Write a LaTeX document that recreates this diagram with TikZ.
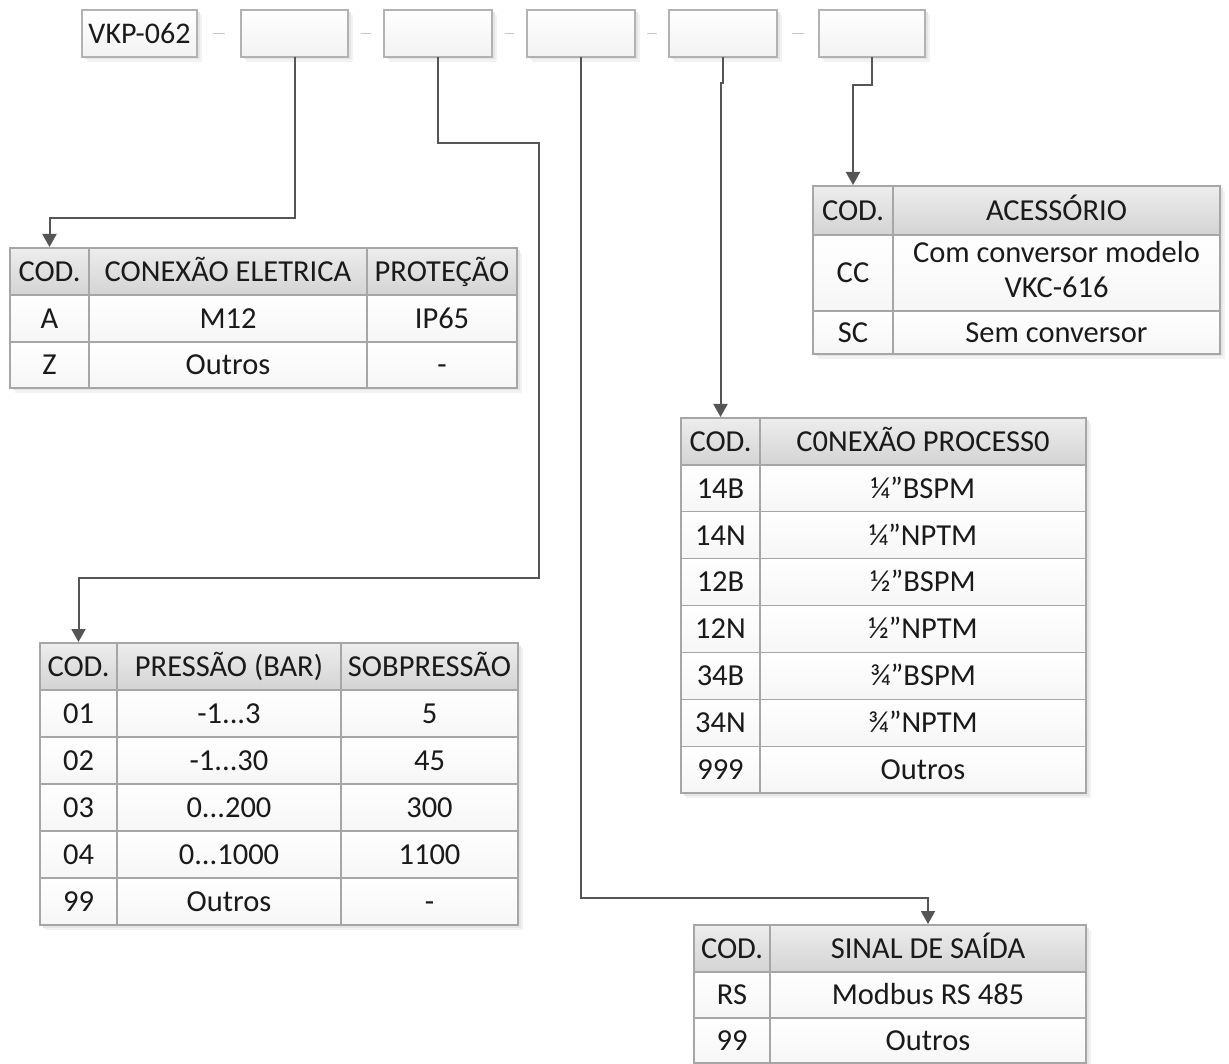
\documentclass[tikz,border=0pt]{standalone}
\usepackage{fontspec}
\setmainfont{Carlito}
\usetikzlibrary{arrows.meta,calc}
\definecolor{lnk}{HTML}{555555}
\definecolor{brd}{HTML}{A6A6A6}
\definecolor{txt}{HTML}{1A1A1A}
\newcommand\cstrut{\rule[-8pt]{0pt}{35.6pt}}
\tikzset{
  cellbase/.style={draw=brd, line width=1.2pt, inner sep=0pt, outer sep=0pt, rectangle, text=txt, align=center, font=\fontsize{30.5}{35}\selectfont, execute at begin node=\cstrut},
  hdr/.style={cellbase, top color=gray!14, bottom color=gray!34},
  bdy/.style={cellbase, top color=white, bottom color=gray!7},
  topbox/.style={draw=gray!60, line width=1.4pt, top color=white, bottom color=gray!10, rectangle, inner sep=0pt, outer sep=0pt, text=txt, font=\fontsize{30}{34}\selectfont, execute at begin node=\cstrut},
  link/.style={draw=lnk, line width=2pt, -{Triangle[length=13pt,width=14pt]}, shorten >=1pt},
  sep/.style={draw=gray!45, line width=1.2pt}
}
\newcommand\cellnode[7]{\node[#6, minimum width={#4-#2}, minimum height={#5-#3}] (#1) at ({(#2+#4)/2},{(#3+#5)/2}) {#7};}
\newcommand\shadowrect[4]{%
  \fill[gray!10] (#1+5,#2+5) rectangle (#3+5,#4+5);
  \fill[gray!20] (#1+2.5,#2+2.5) rectangle (#3+2.5,#4+2.5);}
\newcommand\prow[5]{% index, code, pressure, over
  \pgfmathsetmacro\ya{690+#1*47}
  \pgfmathsetmacro\yb{690+(#1+1)*47}
  \cellnode{t3r#1a}{40}{\ya}{117}{\yb}{bdy}{#2}
  \cellnode{t3r#1b}{117}{\ya}{341}{\yb}{bdy}{#3}
  \cellnode{t3r#1c}{341}{\ya}{518}{\yb}{bdy}{#4}}
\begin{document}
\begin{tikzpicture}[x=1pt,y=-1pt]
\useasboundingbox (0,0) rectangle (1229,1064);
\fill[white] (0,0) rectangle (1229,1064);
% top boxes
\shadowrect{82}{10}{197}{57}
\shadowrect{241}{10}{348}{57}
\shadowrect{384}{10}{492}{57}
\shadowrect{527}{10}{635}{57}
\shadowrect{669}{10}{777}{57}
\shadowrect{819}{10}{925}{57}
\cellnode{b1}{82}{10}{197}{57}{topbox}{VKP-062}
\cellnode{b2}{241}{10}{348}{57}{topbox}{}
\cellnode{b3}{384}{10}{492}{57}{topbox}{}
\cellnode{b4}{527}{10}{635}{57}{topbox}{}
\cellnode{b5}{669}{10}{777}{57}{topbox}{}
\cellnode{b6}{819}{10}{925}{57}{topbox}{}
\foreach \a/\b in {b1/b2,b2/b3,b3/b4,b4/b5,b5/b6}{
  \draw[sep] ($(\a.east)!0.36!(\b.west)$) -- ($(\a.east)!0.64!(\b.west)$);}
% table 1: conexao eletrica
\shadowrect{10}{248}{517}{388}
\cellnode{t1h1}{10}{248}{89}{295}{hdr}{COD.}
\cellnode{t1h2}{89}{248}{367}{295}{hdr}{CONEXÃO ELETRICA}
\cellnode{t1h3}{367}{248}{517}{295}{hdr}{PROTEÇÃO}
\cellnode{t1a1}{10}{295}{89}{342}{bdy}{A}
\cellnode{t1a2}{89}{295}{367}{342}{bdy}{M12}
\cellnode{t1a3}{367}{295}{517}{342}{bdy}{IP65}
\cellnode{t1b1}{10}{342}{89}{388}{bdy}{Z}
\cellnode{t1b2}{89}{342}{367}{388}{bdy}{Outros}
\cellnode{t1b3}{367}{342}{517}{388}{bdy}{-}
% table 2: acessorio
\shadowrect{813}{186}{1220}{354}
\cellnode{t2h1}{813}{186}{893}{235}{hdr}{COD.}
\cellnode{t2h2}{893}{186}{1220}{235}{hdr}{ACESSÓRIO}
\cellnode{t2a1}{813}{235}{893}{311}{bdy}{CC}
\cellnode{t2a2}{893}{235}{1220}{311}{bdy}{Com conversor modelo\\VKC-616\cstrut}
\cellnode{t2b1}{813}{311}{893}{354}{bdy}{SC}
\cellnode{t2b2}{893}{311}{1220}{354}{bdy}{Sem conversor}
% table 4: conexao processo
\shadowrect{681}{418}{1086}{793}
\cellnode{t4h1}{681}{418}{760}{465}{hdr}{COD.}
\cellnode{t4h2}{760}{418}{1086}{465}{hdr}{C0NEXÃO PROCESS0}
\foreach \i/\c/\t in {0/14B/¼”BSPM,1/14N/¼”NPTM,2/12B/½”BSPM,3/12N/½”NPTM,4/34B/¾”BSPM,5/34N/¾”NPTM,6/999/Outros}{
  \pgfmathsetmacro\ya{465+\i*46.86}
  \pgfmathsetmacro\yb{465+(\i+1)*46.86}
  \cellnode{t4r\i a}{681}{\ya}{760}{\yb}{bdy}{\c}
  \cellnode{t4r\i b}{760}{\ya}{1086}{\yb}{bdy}{\t}
}
% table 3: pressao
\shadowrect{40}{643}{518}{925}
\cellnode{t3h1}{40}{643}{117}{690}{hdr}{COD.}
\cellnode{t3h2}{117}{643}{341}{690}{hdr}{PRESSÃO (BAR)}
\cellnode{t3h3}{341}{643}{518}{690}{hdr}{SOBPRESSÃO}
\prow{0}{01}{-1...3}{5}{}
\prow{1}{02}{-1...30}{45}{}
\prow{2}{03}{0...200}{300}{}
\prow{3}{04}{0...1000}{1100}{}
\prow{4}{99}{Outros}{-}{}
% table 5: sinal de saida
\shadowrect{694}{925}{1086}{1063}
\cellnode{t5h1}{694}{925}{770}{972}{hdr}{COD.}
\cellnode{t5h2}{770}{925}{1086}{972}{hdr}{SINAL DE SAÍDA}
\cellnode{t5a1}{694}{972}{770}{1018}{bdy}{RS}
\cellnode{t5a2}{770}{972}{1086}{1018}{bdy}{Modbus RS 485}
\cellnode{t5b1}{694}{1018}{770}{1063}{bdy}{99}
\cellnode{t5b2}{770}{1018}{1086}{1063}{bdy}{Outros}
% connectors
\draw[link] (b2.south) -- (b2.south |- 0,218) -| (t1h1.north);
\draw[link] (b3.south) |- (539,143) -- (539,578) -| (t3h1.north);
\draw[link] (b4.south) -- (b4.south |- 0,898) -| (t5h2.north);
\draw[link] (b5.south) -- ++(0,26) -| (t4h1.north);
\draw[link] (b6.south) -- (b6.south |- 0,85) -| (t2h1.north);
\end{tikzpicture}
\end{document}
